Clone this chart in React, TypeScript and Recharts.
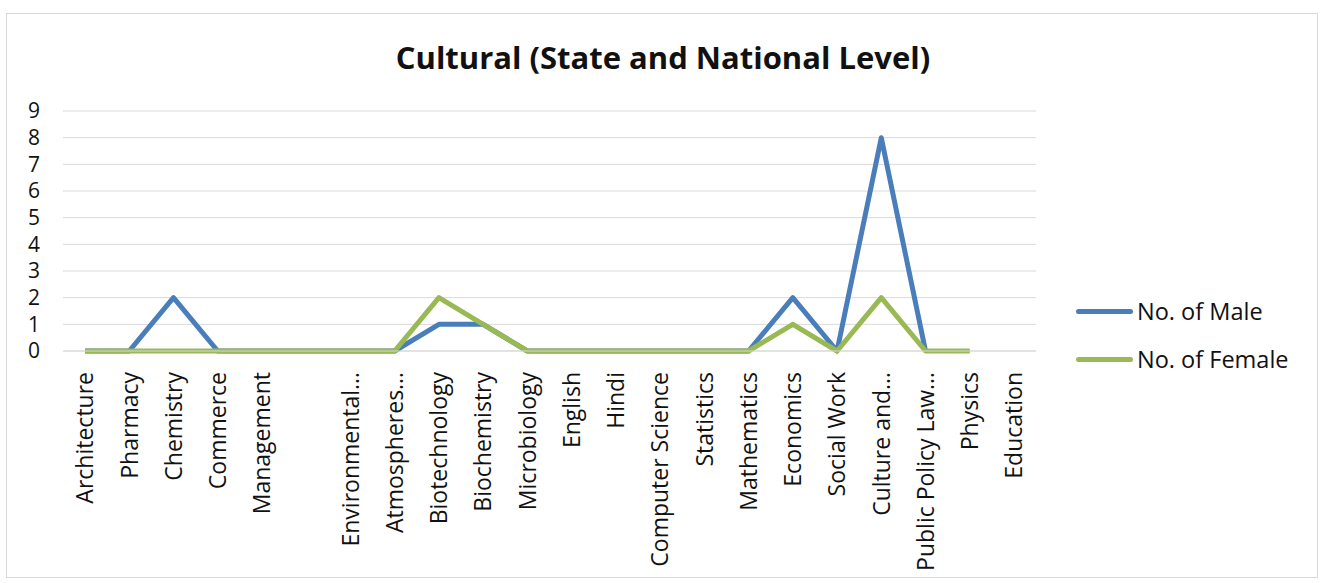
import React from 'react';
import { LineChart, Line, XAxis, YAxis, CartesianGrid } from 'recharts';

const subjects = [
  'Architecture', 'Pharmacy', 'Chemistry', 'Commerce', 'Management', '',
  'Environmental…', 'Atmospheres…', 'Biotechnology', 'Biochemistry', 'Microbiology',
  'English', 'Hindi', 'Computer Science', 'Statistics', 'Mathematics', 'Economics',
  'Social Work', 'Culture and…', 'Public Policy Law…', 'Physics', 'Education'
];
const maleCounts = [0, 0, 2, 0, 0, 0, 0, 0, 1, 1, 0, 0, 0, 0, 0, 0, 2, 0, 8, 0, null, null];
const femaleCounts = [0, 0, 0, 0, 0, 0, 0, 0, 2, 1, 0, 0, 0, 0, 0, 0, 1, 0, 2, 0, 0, null];
const yTicks = [0, 1, 2, 3, 4, 5, 6, 7, 8, 9];
const legendItems = [
  { label: 'No. of Male', color: '#4A7EBB' },
  { label: 'No. of Female', color: '#98B954' }
];

const MALE = legendItems[0].color;
const FEMALE = legendItems[1].color;
const FONT = '"Open Sans", sans-serif';

const data = subjects.map((name, i) => ({ name, male: maleCounts[i], female: femaleCounts[i] }));

const SubjectTick = (props: any) => {
  const { x, y, payload } = props;
  return (
    <g transform={`translate(${x},${y})`}>
      <text transform="rotate(-90)" x={-19} dy="0.36em" textAnchor="end" fill="#111" fontSize={23} fontFamily={FONT}>
        {payload.value}
      </text>
    </g>
  );
};

export default function App() {
  return (
    <div style={{ position: 'absolute', left: 0, top: 0, width: 1321, height: 583, background: '#fff', overflow: 'hidden' }}>
      <div style={{ position: 'absolute', left: 6, top: 13, width: 1312, height: 565, border: '1px solid #d9d9d9', boxSizing: 'border-box' }}>
        <div style={{
          position: 'absolute', left: 0, top: 22, width: 1312, textAlign: 'center',
          fontFamily: FONT, fontWeight: 700, fontSize: 31, color: '#111'
        }}>
          Cultural (State and National Level)
        </div>
        <LineChart width={1310} height={563} data={data} margin={{ top: 97, right: 281, bottom: 24, left: 0 }}>
          <CartesianGrid vertical={false} stroke="#d9d9d9" />
          <XAxis
            dataKey="name"
            interval={0}
            height={202}
            padding={{ left: 22, right: 22 }}
            tickSize={0}
            tickLine={false}
            axisLine={{ stroke: '#d9d9d9' }}
            tick={<SubjectTick />}
          />
          <YAxis
            domain={[0, 9]}
            ticks={yTicks}
            interval={0}
            width={56}
            tickSize={0}
            tickMargin={23}
            axisLine={false}
            tickLine={false}
            tick={{ fill: '#111', fontSize: 21, fontFamily: FONT }}
          />
          <Line dataKey="male" name="No. of Male" stroke={MALE} strokeWidth={5} strokeLinejoin="round" dot={false} isAnimationActive={false} />
          <Line dataKey="female" name="No. of Female" stroke={FEMALE} strokeWidth={5} strokeLinejoin="round" dot={false} isAnimationActive={false} />
        </LineChart>
        <div style={{ position: 'absolute', left: 1069, top: 273, fontFamily: FONT, fontSize: 23.5, color: '#111' }}>
          {legendItems.map((item) => (
            <div key={item.label} style={{ display: 'flex', alignItems: 'center', height: 48 }}>
              <span style={{ width: 57, height: 5, borderRadius: 3, background: item.color, marginRight: 4 }} />
              <span>{item.label}</span>
            </div>
          ))}
        </div>
      </div>
    </div>
  );
}
